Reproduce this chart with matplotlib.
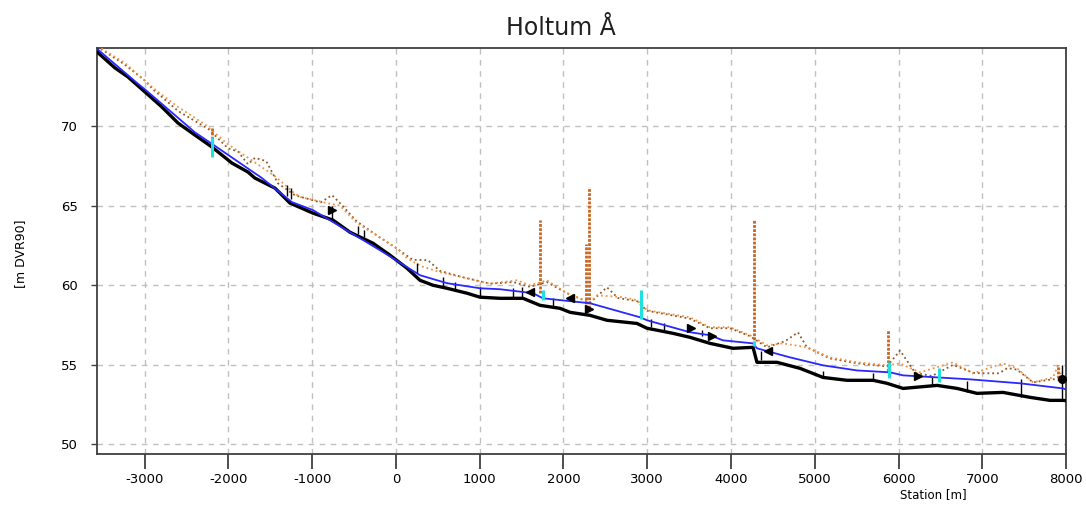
import numpy as np
import matplotlib.pyplot as plt

plt.rcParams['font.family'] = ['DejaVu Sans']
plt.rcParams['axes.unicode_minus'] = False

# Longitudinal profile, Holtum Å (station [m], level [m DVR90])
bed_station = [-3570, -3558, -3355, -3200, -2997, -2794, -2603, -2400, -2197, -1958, -1767,
               -1684, -1445, -1385, -1266, -991, -752, -549, -275, -72, 131, 287, 442, 609,
               848, 1003, 1242, 1516, 1719, 1958, 2078, 2316, 2519, 2878, 2997, 3307, 3510,
               3749, 4024, 4263, 4310, 4549, 4824, 5099, 5385, 5696, 5863, 6054, 6460, 6699,
               6937, 7248, 7570, 7809, 7964, 8000]
bed_level = [74.8, 74.6, 73.65, 73.08, 72.14, 71.19, 70.19, 69.43, 68.68, 67.67, 67.11,
             66.73, 66.1, 65.79, 65.16, 64.53, 64.09, 63.33, 62.64, 61.89, 61.07, 60.31, 60.0,
             59.81, 59.5, 59.25, 59.18, 59.18, 58.74, 58.55, 58.3, 58.11, 57.8, 57.6, 57.3,
             56.98, 56.73, 56.35, 56.04, 56.1, 55.16, 55.16, 54.78, 54.21, 54.03, 54.03, 53.84,
             53.52, 53.71, 53.52, 53.21, 53.27, 52.96, 52.77, 52.77, 52.75]

wl_station = [-3570, -3080, -2997, -2400, -2197, -1600, -1242, -991, -191, 287, 609, 1003,
              1242, 1636, 1755, 2316, 2913, 2997, 3510, 3749, 3904, 4263, 4310, 4704, 5099,
              5504, 5899, 6054, 6854, 7451, 7964, 8000]
wl_level = [74.85, 72.65, 72.3, 69.6, 68.88, 66.73, 65.22, 64.72, 62.2, 60.63, 60.13, 59.81,
            59.75, 59.5, 59.18, 58.87, 57.99, 57.8, 57.05, 56.86, 56.54, 56.35, 56.04, 55.47,
            54.97, 54.65, 54.53, 54.34, 54.09, 53.84, 53.52, 53.45]

left_station = [-3570, -3510, -3236, -2878, -2603, -2280, -2006, -1750, -1445, -1206, -1146,
                -824, -669, -466, -191, 12, 131, 300, 525, 800, 1122, 1445, 1600, 1803, 2042,
                2316, 2400, 2710, 2878, 2997, 3510, 3749, 3988, 4227, 4430, 4621, 4907, 5182,
                5504, 5863, 6018, 6257, 6651, 6890, 7248, 7415, 7606, 7845, 7905, 7964]
left_level = [75.0, 74.85, 73.95, 72.3, 71.2, 70.1, 68.85, 67.95, 66.85, 65.75, 65.55,
              65.16, 65.0, 63.9, 63.0, 62.33, 61.7, 61.2, 60.82, 60.5, 60.1, 60.31, 60.0, 60.31,
              59.5, 58.93, 59.37, 59.25, 59.06, 58.43, 57.99, 57.36, 57.36, 56.86, 56.23, 56.35,
              56.1, 55.47, 55.16, 54.97, 55.09, 54.53, 55.16, 54.47, 55.09, 54.78, 53.9, 54.21,
              54.97, 54.03]

right_station = [-3570, -3236, -2997, -2900, -2603, -2236, -2006, -1887, -1767, -1684, -1550,
                 -1409, -1206, -900, -764, -669, -466, -191, 12, 200, 382, 525, 800, 1122, 1400,
                 1600, 1800, 2042, 2316, 2519, 2650, 2878, 2997, 3510, 3749, 3988, 4227, 4430,
                 4650, 4800, 4907, 5182, 5504, 5863, 6018, 6200, 6400, 6651, 6890, 7000, 7200,
                 7300, 7415, 7606, 7845, 7964]
right_level = [75.0, 73.85, 72.85, 72.3, 70.95, 69.8, 68.6, 68.4, 67.6, 68.0, 67.8,
               66.4, 65.65, 65.2, 65.66, 65.16, 64.0, 63.0, 62.3, 61.6, 61.57, 60.9, 60.5, 60.1,
               60.2, 59.9, 60.2, 59.5, 58.9, 59.87, 59.2, 59.0, 58.4, 57.9, 57.3, 57.3, 56.8,
               56.1, 56.5, 57.04, 56.1, 55.4, 55.1, 54.9, 55.9, 54.5, 54.3, 55.0, 54.5, 54.47,
               54.47, 54.8, 54.7, 53.9, 54.1, 54.0]

# Structures: weirs/bridges (orange), openings (cyan)
weir_station = [-2200, 1720, 2300, 2270, 4270, 5880, 7905]
weir_bottom = [69.2, 59.5, 58.6, 58.6, 56.3, 54.6, 54.2]
weir_top = [69.9, 64.1, 66.2, 62.6, 64.1, 57.2, 55.0]

opening_station = [-2200, 1750, 2930, 4275, 5890, 6480]
opening_bottom = [68.05, 59.06, 57.9, 56.2, 54.15, 53.9]
opening_top = [69.3, 59.7, 59.7, 56.5, 55.2, 54.8]

# Small bed features (black ticks)
tick_station = [-1300, -1250, -760, -450, -380, 250, 560, 700, 1000, 1400, 1500, 1880,
                3050, 3200, 3650, 4360, 5100, 5690, 6400, 6820, 7460, 7950]
tick_bottom = [65.6, 65.4, 64.1, 63.2, 63.0, 60.8, 59.9, 59.7, 59.3, 59.2, 59.2, 58.6,
               57.4, 57.1, 56.8, 55.3, 54.2, 54.0, 53.7, 53.3, 53.0, 52.8]
tick_top = [66.3, 66.1, 65.0, 63.7, 63.5, 61.4, 60.5, 60.2, 59.9, 59.8, 59.9, 59.2,
            57.9, 57.6, 57.2, 55.9, 54.6, 54.5, 54.3, 54.0, 54.1, 55.0]

# Culverts (black markers)
culvert_station = [-760, 1600, 2080, 2300, 3520, 3770, 4440, 6230, 7950]
culvert_level = [64.7, 59.6, 59.2, 58.5, 57.3, 56.8, 55.9, 54.3, 54.1]
culvert_marker = ['>', '<', '<', '>', '>', '>', '<', '>', 'o']

fig = plt.figure(figsize=(10.86, 5.07), dpi=100)
ax = fig.add_axes([0.0893, 0.1045, 0.8923, 0.8008])

ax.plot(right_station, right_level, color='#8B5A2B', linestyle=':', linewidth=1.3, zorder=3)
ax.plot(left_station, left_level, color='#F39040', linestyle=':', linewidth=1.3, zorder=3)

ax.vlines(weir_station, weir_bottom, weir_top, color='#C8651E', linewidth=2.0,
          linestyles=(0, (1, 0.5)), zorder=4)
ax.vlines(tick_station, tick_bottom, tick_top, color='black', linewidth=1.0, zorder=4)

ax.plot(bed_station, bed_level, color='black', linewidth=2.4, zorder=5)
ax.plot(wl_station, wl_level, color='#2828FF', linewidth=1.3, zorder=6)

ax.vlines(opening_station, opening_bottom, opening_top, color='#20E0E0', linewidth=2.2, zorder=7)

for s, l, m in zip(culvert_station, culvert_level, culvert_marker):
    ax.plot(s, l, marker=m, color='black', markersize=5.5, zorder=8)

ax.set_xlim(-3570, 8000)
ax.set_ylim(49.4, 74.9)
ax.set_xticks(np.arange(-3000, 8001, 1000))
ax.set_yticks([50, 55, 60, 65, 70])
ax.grid(True, color='#C0C0C0', linestyle=(0, (4, 4)), linewidth=1.0)
ax.set_axisbelow(True)

for sp in ax.spines.values():
    sp.set_color('#404040')
    sp.set_linewidth(1.3)

ax.tick_params(axis='x', direction='out', length=11, width=1.3, color='#404040',
               labelsize=9.5, pad=3)
ax.tick_params(axis='y', direction='out', length=4, width=1.0, color='#404040',
               labelsize=9.5, pad=10)

fig.text(0.5166, 0.931, 'Holtum Å', fontsize=17, color='#202020', ha='center', va='baseline')
fig.text(0.019, 0.5, '[m DVR90]', rotation=90, fontsize=9, va='center', ha='center')
fig.text(0.859, 0.024, 'Station [m]', fontsize=8.5, ha='center', va='center')

plt.savefig('out.png', dpi=100)
